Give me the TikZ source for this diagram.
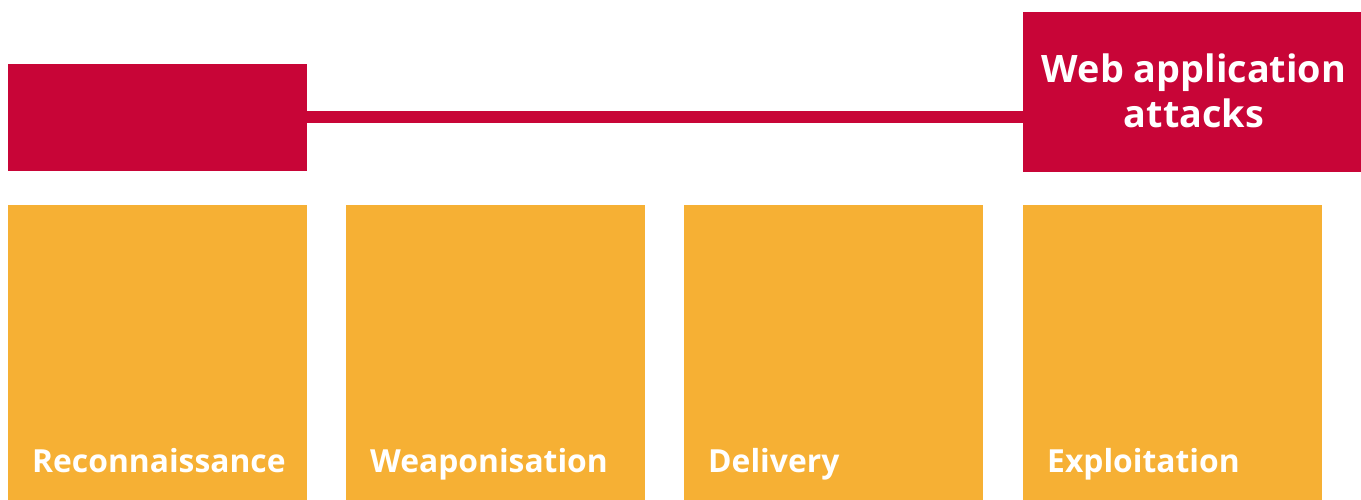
\documentclass[tikz,border=0pt]{standalone}
\usepackage{fontspec}
\setmainfont{Open Sans}
\definecolor{kred}{HTML}{C80537}
\definecolor{korange}{HTML}{F6B034}
\begin{document}
\begin{tikzpicture}[x=1pt,y=1pt,
  redbox/.style={fill=kred,draw=none,inner sep=0pt,outer sep=0pt,rectangle},
  stagebox/.style={fill=korange,draw=none,inner sep=0pt,outer sep=0pt,rectangle,minimum width=299pt,minimum height=295pt},
  stagelabel/.style={anchor=base west,inner sep=0pt,text=white,font=\fontsize{31.8}{38}\selectfont\bfseries},
  link/.style={draw=kred,line width=12pt}]
\useasboundingbox (0,0) rectangle (1361,500);
\node[redbox,minimum width=338pt,minimum height=160pt] (right) at (1192,408) {};
\node[text=white,align=center,inner sep=0pt,
  font=\fontsize{37.8}{45}\selectfont\bfseries] (rtext) at (1194,409) {Web application\\attacks};
\node[redbox,minimum width=299pt,minimum height=107pt] (left) at (157.5,382.5) {};
\draw[link] (left.east) -- (left.east -| right.west);
\node[stagebox] (s1) at (157.5,147.5) {};
\node[stagebox] (s2) at (495.5,147.5) {};
\node[stagebox] (s3) at (833.5,147.5) {};
\node[stagebox] (s4) at (1172.5,147.5) {};
\node[stagelabel] (l1) at (32,27) {Reconnaissance};
\node[stagelabel] (l2) at (370,27) {Weaponisation};
\node[stagelabel] (l3) at (708,27) {Delivery};
\node[stagelabel] (l4) at (1047,27) {Exploitation};
\end{tikzpicture}
\end{document}
